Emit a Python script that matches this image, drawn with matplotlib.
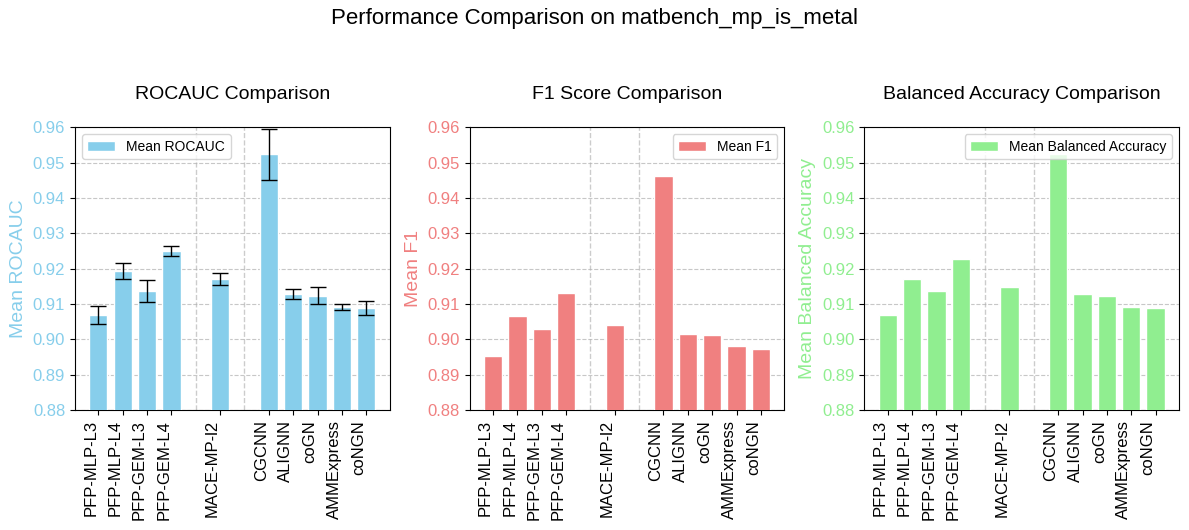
import matplotlib.pyplot as plt
import numpy as np

plt.rcParams['font.family'] = ['Liberation Sans', 'DejaVu Sans']

models = ["PFP-MLP-L3", "PFP-MLP-L4", "PFP-GEM-L3", "PFP-GEM-L4", "MACE-MP-l2",
          "CGCNN", "ALIGNN", "coGN", "AMMExpress", "coNGN"]
positions = [0, 1, 2, 3, 5, 7, 8, 9, 10, 11]
separators = [4, 6]

rocauc_mean = [0.9069, 0.9193, 0.9137, 0.9250, 0.9171, 0.9523, 0.9128, 0.9123, 0.9092, 0.9089]
rocauc_std = [0.0025, 0.0023, 0.0030, 0.0014, 0.0016, 0.0073, 0.0014, 0.0024, 0.0008, 0.0020]
f1_mean = [0.8954, 0.9067, 0.9030, 0.9132, 0.9042, 0.9463, 0.9016, 0.9012, 0.8982, 0.8974]
bacc_mean = [0.9069, 0.9171, 0.9137, 0.9228, 0.9148, 0.9523, 0.9128, 0.9123, 0.9092, 0.9089]

panels = [
    ("ROCAUC Comparison", "Mean ROCAUC", "Mean ROCAUC", rocauc_mean, rocauc_std, "skyblue", "upper left"),
    ("F1 Score Comparison", "Mean F1", "Mean F1", f1_mean, None, "lightcoral", "upper right"),
    ("Balanced Accuracy Comparison", "Mean Balanced Accuracy", "Mean Balanced Accuracy",
     bacc_mean, None, "lightgreen", "upper right"),
]

fig, axes = plt.subplots(1, 3, figsize=(11.89, 5.3), dpi=100)
fig.subplots_adjust(left=0.063, right=0.9916, top=0.760, bottom=0.226, wspace=0.254)

for ax, (title, ylabel, label, mean, std, color, loc) in zip(axes, panels):
    ax.bar(positions, mean, width=0.75, color=color, edgecolor="white", linewidth=1,
           yerr=std, capsize=6 if std is not None else 0, ecolor="black",
           error_kw={"elinewidth": 1}, label=label, zorder=3)
    for s in separators:
        ax.axvline(s, color="gray", linestyle="--", alpha=0.4, linewidth=1, zorder=1)
    ax.set_ylim(0.88, 0.96)
    ax.set_xticks(positions)
    ax.set_xticklabels(models, rotation=90, ha="right", fontsize=12)
    ax.tick_params(axis="y", labelcolor=color, labelsize=12)
    ax.set_ylabel(ylabel, color=color, fontsize=14)
    ax.set_title(title, fontsize=14, pad=20)
    ax.grid(axis="y", linestyle="--", alpha=0.7, zorder=0)
    ax.legend(loc=loc, fontsize=10)

fig.suptitle("Performance Comparison on matbench_mp_is_metal", fontsize=16, y=0.985)
fig.savefig("out.png", dpi=100)
